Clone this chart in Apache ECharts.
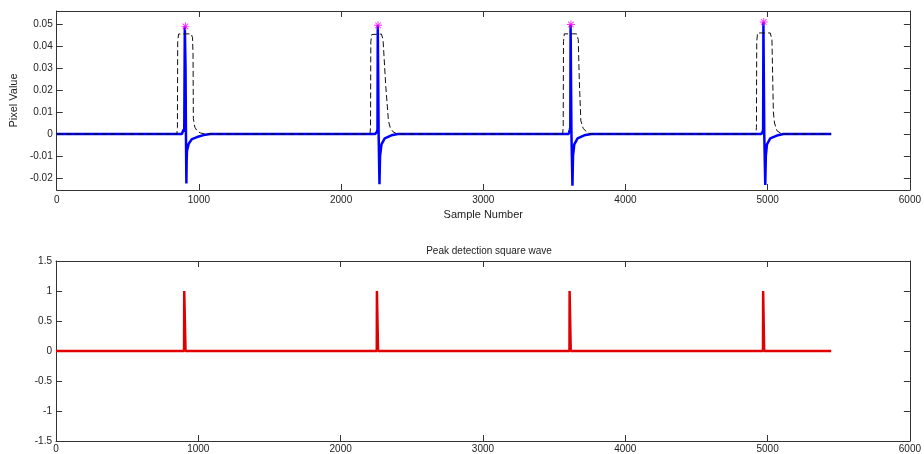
<!DOCTYPE html>
<html>
<head>
<meta charset="utf-8">
<script src="https://cdn.jsdelivr.net/npm/echarts@6/dist/echarts.min.js"></script>
<style>
  html, body { margin: 0; padding: 0; background: #fff; }
  #chart { width: 924px; height: 454px; }
</style>
</head>
<body>
<div id="chart"></div>
<script>
  // top plot: filtered signal (blue), smoothed envelope (dashed), detected peaks
  var signalX = [0, 880, 893, 897, 901, 904, 906, 909, 912, 914, 916, 928, 951, 987, 1033, 1080,
    2240, 2252, 2256, 2258, 2261, 2264, 2270, 2274, 2284, 2307, 2354, 2400,
    3600, 3609, 3612, 3614, 3617, 3620, 3627, 3631, 3640, 3663, 3710, 3760,
    4955, 4965, 4968, 4970, 4973, 4976, 4983, 4987, 4995, 5018, 5065, 5110, 5447];
  var signalY = [0, 0, 0.002, 0.001, 0.049, 0.049, 0.03, 0, -0.0225, -0.012, -0.0077, -0.0045, -0.0023, -0.0014, -0.0005, 0,
    0, 0.001, 0.002, 0.0495, 0.0495, 0, -0.0229, -0.01, -0.0047, -0.002, -0.0006, 0,
    0, 0.002, 0.003, 0.0499, 0.0499, 0, -0.0236, -0.01, -0.0047, -0.002, -0.0006, 0,
    0, 0.001, 0.002, 0.051, 0.051, 0, -0.0232, -0.01, -0.0047, -0.002, -0.0007, 0, 0];

  var envX = [0, 845, 849, 851, 857, 870, 945, 955, 959, 961, 972, 990, 1010, 1040,
    2203, 2207, 2209, 2216, 2228, 2284, 2295, 2314, 2333, 2345, 2365, 2395,
    3558, 3562, 3564, 3570, 3580, 3656, 3668, 3675, 3686, 3703, 3733, 3760,
    4917, 4921, 4923, 4929, 4940, 5018, 5030, 5040, 5048, 5065, 5100, 5447];
  var envY = [0, 0, 0.003, 0.042, 0.0455, 0.0456, 0.0456, 0.044, 0.036, 0.007, 0.003, 0.0012, 0.0005, 0,
    0, 0.003, 0.042, 0.0453, 0.0455, 0.0455, 0.043, 0.022, 0.006, 0.003, 0.001, 0,
    0, 0.003, 0.042, 0.0456, 0.0456, 0.0456, 0.043, 0.025, 0.006, 0.0025, 0.0006, 0,
    0, 0.003, 0.042, 0.046, 0.046, 0.046, 0.043, 0.01, 0.005, 0.0015, 0, 0];

  var peakX = [905, 2260, 3616, 4972];
  var peakY = [0.049, 0.0495, 0.0499, 0.051];

  // bottom plot: square wave
  var pulseX = [0, 900, 901, 909, 910, 2254, 2255, 2262, 2263, 3608, 3609, 3616, 3617, 4968, 4969, 4975, 4976, 5447];
  var pulseY = [0, 0, 1, 1, 0, 0, 1, 1, 0, 0, 1, 1, 0, 0, 1, 1, 0, 0];

  var topTicks = [-0.02, -0.01, 0, 0.01, 0.02, 0.03, 0.04, 0.05];

  function zip(xs, ys) {
    return xs.map(function (x, i) { return [x, ys[i]]; });
  }
  function plain(v) { return String(v); }

  var ink = '#222';
  var axisLine = { show: true, onZero: false, lineStyle: { color: '#333', width: 1 } };
  var tick = { show: true, inside: true, length: 6, lineStyle: { color: '#333' } };
  var lbl = { color: ink, fontSize: 10, fontFamily: 'Liberation Sans', formatter: plain };

  function xAxes(grid, margin) {
    return [
      { type: 'value', gridIndex: grid, min: 0, max: 6000, interval: 1000, position: 'bottom',
        axisLine: axisLine, axisTick: tick, splitLine: { show: false },
        axisLabel: Object.assign({ margin: margin }, lbl) },
      { type: 'value', gridIndex: grid, min: 0, max: 6000, interval: 1000, position: 'top',
        axisLine: axisLine, axisTick: tick, splitLine: { show: false }, axisLabel: { show: false } }
    ];
  }

  var asterisk = 'path://M-0.6,-5L0.6,-5L0.6,5L-0.6,5Z M-5,-0.6L5,-0.6L5,0.6L-5,0.6Z ' +
    'M-3.9,-3.1L-3.1,-3.9L3.9,3.1L3.1,3.9Z M3.1,-3.9L3.9,-3.1L-3.1,3.9L-3.9,3.1Z';

  var chart = echarts.init(document.getElementById('chart'));
  chart.setOption({
    animation: false,
    textStyle: { fontFamily: 'Liberation Sans' },
    title: {
      text: 'Peak detection square wave',
      left: 484, top: 241, textAlign: 'center',
      textStyle: { color: ink, fontSize: 10, fontWeight: 'normal', fontFamily: 'Liberation Sans' }
    },
    grid: [
      { left: 56, top: 11, width: 856, height: 179 },
      { left: 56, top: 261, width: 856, height: 181 }
    ],
    xAxis: xAxes(0, 5).concat(xAxes(1, 3)).map(function (a, i) {
      if (i === 0) {
        a.name = 'Sample Number';
        a.nameLocation = 'middle';
        a.nameGap = 19;
        a.nameTextStyle = { color: ink, fontSize: 11, fontFamily: 'Liberation Sans' };
      }
      return a;
    }),
    yAxis: [
      { type: 'value', gridIndex: 0, min: -0.0255, max: 0.056, position: 'left',
        name: 'Pixel Value', nameLocation: 'middle', nameGap: 36,
        nameTextStyle: { color: ink, fontSize: 11, fontFamily: 'Liberation Sans' },
        axisLine: axisLine, splitLine: { show: false },
        axisTick: Object.assign({ customValues: topTicks }, tick),
        axisLabel: Object.assign({ customValues: topTicks, margin: 4 }, lbl) },
      { type: 'value', gridIndex: 0, min: -0.0255, max: 0.056, position: 'right',
        axisLine: axisLine, splitLine: { show: false },
        axisTick: Object.assign({ customValues: topTicks }, tick), axisLabel: { show: false } },
      { type: 'value', gridIndex: 1, min: -1.5, max: 1.5, interval: 0.5, position: 'left',
        axisLine: axisLine, axisTick: tick, splitLine: { show: false },
        axisLabel: Object.assign({ margin: 4 }, lbl) },
      { type: 'value', gridIndex: 1, min: -1.5, max: 1.5, interval: 0.5, position: 'right',
        axisLine: axisLine, axisTick: tick, splitLine: { show: false }, axisLabel: { show: false } }
    ],
    series: [
      { type: 'line', xAxisIndex: 0, yAxisIndex: 0, data: zip(signalX, signalY), showSymbol: false,
        lineStyle: { color: '#0000ff', width: 2.5 }, z: 2 },
      { type: 'line', xAxisIndex: 0, yAxisIndex: 0, data: zip(envX, envY), showSymbol: false,
        lineStyle: { color: '#111', width: 1, type: [6, 3] }, z: 3 },
      { type: 'scatter', xAxisIndex: 0, yAxisIndex: 0, data: zip(peakX, peakY),
        symbol: asterisk, symbolSize: 8, itemStyle: { color: '#ff00ff' }, z: 4 },
      { type: 'line', xAxisIndex: 2, yAxisIndex: 2, data: zip(pulseX, pulseY), showSymbol: false,
        lineStyle: { color: '#e00000', width: 2.5 }, z: 2 }
    ]
  });
</script>
</body>
</html>
